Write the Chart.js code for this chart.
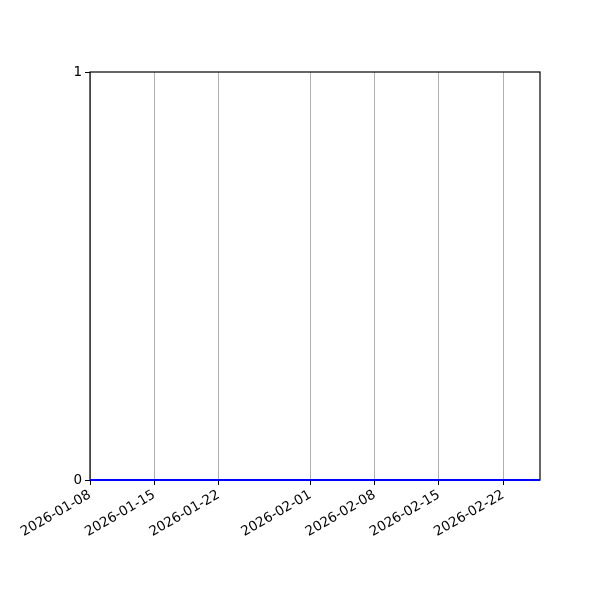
<!DOCTYPE html>
<html>
<head>
<meta charset="utf-8">
<script src="https://cdn.jsdelivr.net/npm/chart.js@4/dist/chart.umd.min.js"></script>
<style>
html,body{margin:0;padding:0;background:#fff;}
#wrap{width:600px;height:600px;position:relative;}
</style>
</head>
<body>
<div id="wrap"><canvas id="c" width="600" height="600"></canvas></div>
<script>
const dates = [
 '2026-01-08','2026-01-09','2026-01-10','2026-01-11','2026-01-12','2026-01-13','2026-01-14',
 '2026-01-15','2026-01-16','2026-01-17','2026-01-18','2026-01-19','2026-01-20','2026-01-21',
 '2026-01-22','2026-01-23','2026-01-24','2026-01-25','2026-01-26','2026-01-27','2026-01-28',
 '2026-01-29','2026-01-30','2026-01-31','2026-02-01','2026-02-02','2026-02-03','2026-02-04',
 '2026-02-05','2026-02-06','2026-02-07','2026-02-08','2026-02-09','2026-02-10','2026-02-11',
 '2026-02-12','2026-02-13','2026-02-14','2026-02-15','2026-02-16','2026-02-17','2026-02-18',
 '2026-02-19','2026-02-20','2026-02-21','2026-02-22','2026-02-23','2026-02-24','2026-02-25',
 '2026-02-26'
];
const values = [
 0,0,0,0,0,0,0,
 0,0,0,0,0,0,0,
 0,0,0,0,0,0,0,
 0,0,0,0,0,0,0,
 0,0,0,0,0,0,0,
 0,0,0,0,0,0,0,
 0,0,0,0,0,0,0,
 0
];
const xTickLabels = ['2026-01-08','2026-01-15','2026-01-22','2026-02-01','2026-02-08','2026-02-15','2026-02-22'];
const yTickValues = [0, 1];
const xStart = '2026-01-08';
const xEnd = '2026-02-26';

const DAY = 86400000;
const base = Date.parse(xStart + 'T00:00:00Z');
const toDay = s => (Date.parse(s + 'T00:00:00Z') - base) / DAY;
const fromDay = d => new Date(base + d * DAY).toISOString().slice(0, 10);

const FONT = {family: 'DejaVu Sans', size: 13.5};

const frame = {
  id: 'frame',
  beforeDatasetsDraw(chart) {
    const a = chart.chartArea, ctx = chart.ctx;
    ctx.save();
    ctx.strokeStyle = '#000';
    ctx.lineWidth = 1.2;
    ctx.strokeRect(a.left, a.top, a.right - a.left, a.bottom - a.top);
    ctx.restore();
  }
};

new Chart(document.getElementById('c'), {
  type: 'line',
  data: {
    datasets: [{
      data: dates.map((d, i) => ({x: toDay(d), y: values[i]})),
      borderColor: '#0000ff',
      borderWidth: 2,
      pointRadius: 0,
      fill: false,
      tension: 0,
      clip: 4
    }]
  },
  options: {
    responsive: false,
    animation: false,
    devicePixelRatio: 1,
    layout: {padding: {top: 72, right: 60, left: 0, bottom: 0}},
    plugins: {legend: {display: false}, tooltip: {enabled: false}},
    scales: {
      x: {
        type: 'linear',
        min: toDay(xStart),
        max: toDay(xEnd),
        afterBuildTicks(scale) { scale.ticks = xTickLabels.map(s => ({value: toDay(s)})); },
        afterFit(scale) { scale.height = 120; },
        border: {display: false},
        grid: {color: '#b0b0b0', lineWidth: 1, tickColor: '#000', tickLength: 5, drawOnChartArea: true},
        ticks: {
          color: '#000', font: FONT, minRotation: 30, maxRotation: 30, padding: 2,
          autoSkip: false,
          callback: v => fromDay(v)
        }
      },
      y: {
        type: 'linear',
        min: 0,
        max: 1,
        afterBuildTicks(scale) { scale.ticks = yTickValues.map(v => ({value: v})); },
        afterFit(scale) { scale.width = 90; },
        border: {display: false},
        grid: {drawOnChartArea: false, tickColor: '#000', tickLength: 5},
        ticks: {color: '#000', font: FONT, padding: 3, callback: v => String(v)}
      }
    }
  },
  plugins: [frame]
});
</script>
</body>
</html>
